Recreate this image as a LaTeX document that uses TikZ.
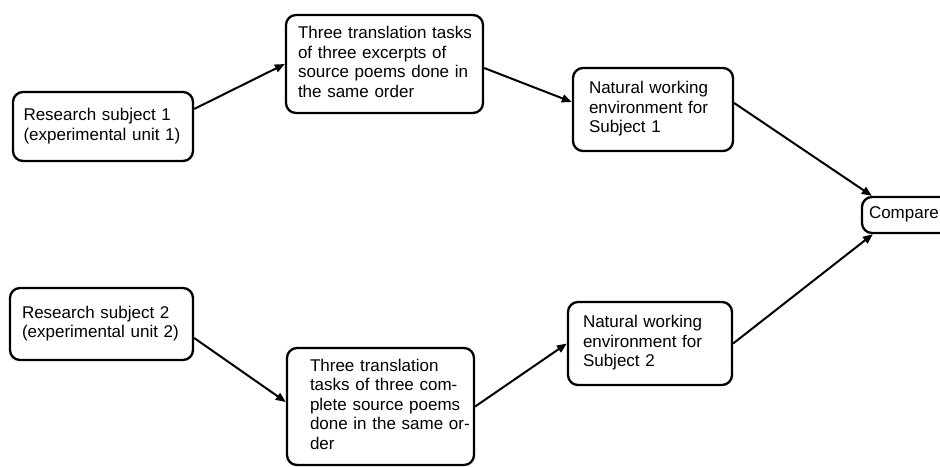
\documentclass[tikz,border=0pt]{standalone}
\usepackage{fontspec}
\setmainfont{Liberation Sans}
\usetikzlibrary{arrows.meta}
% left-aligned block of lines with a given left indent
\newcommand\indented[2]{\begin{tabular}{@{\hspace{#1}}l@{}}#2\end{tabular}}
\begin{document}
\begin{tikzpicture}[x=1pt,y=-1pt,
  box/.style={draw, line width=2.3pt, rounded corners=10pt,
    inner xsep=0pt, inner ysep=0pt, align=left,
    font=\fontsize{17}{19.5}\selectfont},
  flow/.style={line width=2pt, -{Triangle[length=10pt,width=8pt]}}]
  \path[use as bounding box, clip] (0,0) rectangle (940,466);

  % upper branch
  \node[box, text width=180pt, minimum height=69pt] (s1) at (103,126.5)
    {\indented{10.5pt}{Research subject 1\\(experimental unit 1)}};
  \node[box, text width=197pt, minimum height=98pt] (t1) at (384.5,64)
    {\indented{12pt}{Three translation tasks\\of three excerpts of\\source poems done in\\the same order}};
  \node[box, text width=160pt, minimum height=83pt] (n1) at (653,109.5)
    {\indented{16pt}{Natural working\\environment for\\Subject 1}};

  % comparison
  \node[box, text width=120pt, minimum height=36pt] (cmp) at (922,215)
    {\indented{7pt}{Compare}};

  % lower branch
  \node[box, text width=183pt, minimum height=72pt] (s2) at (101.5,324)
    {\indented{12pt}{Research subject 2\\(experimental unit 2)}};
  \node[box, text width=187pt, minimum height=117pt] (t2) at (380.5,406.5)
    {\indented{23pt}{Three translation\\tasks of three com-\\plete source poems\\done in the same or-\\der}};
  \node[box, text width=164pt, minimum height=83pt] (n2) at (650,343.5)
    {\indented{15pt}{Natural working\\environment for\\Subject 2}};

  % connectors
  \draw[flow] ([yshift=17.5pt]s1.east) -- (t1.west);
  \draw[flow] ([yshift=-4pt]t1.east) -- ([yshift=7.5pt]n1.west);
  \draw[flow] ([yshift=6.5pt]n1.east) -- ([xshift=11pt]cmp.north west);
  \draw[flow] ([yshift=-14pt]s2.east) -- ([yshift=4.5pt]t2.west);
  \draw[flow] (t2.east) -- (n2.west);
  \draw[flow] (n2.east) -- ([xshift=12pt]cmp.south west);
\end{tikzpicture}
\end{document}
